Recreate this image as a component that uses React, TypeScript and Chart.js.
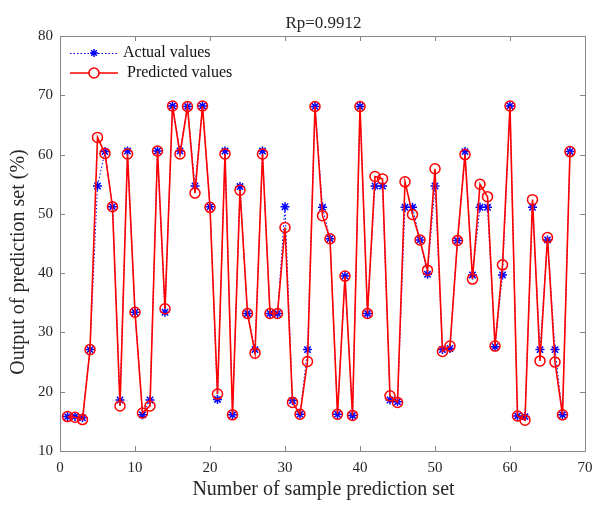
import React, { useEffect, useRef } from "react";
import { Chart, registerables } from "chart.js";

Chart.register(...registerables);

const sampleIndex: number[] = Array.from({ length: 68 }, (_, i) => i + 1);

const actualValues: number[] = [
  15.8, 15.8, 15.6, 27.1, 54.7, 60.5, 51.2, 18.6, 60.6, 33.4,
  16.1, 18.6, 60.6, 33.4, 68.2, 60.6, 68.1, 54.7, 68.2, 51.2,
  18.7, 60.6, 16.1, 54.6, 33.2, 27.1, 60.6, 33.2, 33.2, 51.2,
  18.5, 16.2, 27.1, 68.1, 51.1, 45.8, 16.2, 39.5, 16.0, 68.1,
  33.2, 54.7, 54.7, 18.6, 18.3, 51.1, 51.1, 45.6, 39.8, 54.7,
  27.1, 27.3, 45.5, 60.5, 39.7, 51.1, 51.1, 27.6, 39.7, 68.2,
  15.9, 15.8, 51.1, 27.1, 45.6, 27.1, 16.1, 60.5,
];

const predictedValues: number[] = [
  15.8, 15.7, 15.3, 27.1, 62.9, 60.2, 51.2, 17.6, 60.1, 33.4,
  16.4, 17.6, 60.6, 34.0, 68.2, 60.1, 68.1, 53.5, 68.2, 51.1,
  19.6, 60.1, 16.1, 54.0, 33.2, 26.5, 60.1, 33.2, 33.2, 47.7,
  18.2, 16.2, 25.1, 68.1, 49.7, 45.8, 16.2, 39.5, 16.0, 68.1,
  33.2, 56.3, 55.9, 19.3, 18.2, 55.4, 49.9, 45.6, 40.5, 57.6,
  26.8, 27.7, 45.5, 60.0, 39.0, 55.0, 52.9, 27.7, 41.4, 68.2,
  15.9, 15.2, 52.4, 25.2, 46.0, 25.0, 16.1, 60.5,
];

const xTicks: number[] = [0, 10, 20, 30, 40, 50, 60, 70];
const yTicks: number[] = [10, 20, 30, 40, 50, 60, 70, 80];

const titleText = "Rp=0.9912";
const xTitle = "Number of sample prediction set";
const yTitle = "Output of prediction set (%)";
const legendLabels: string[] = ["Actual values", "Predicted values"];

const FONT = "'Liberation Serif', 'Times New Roman', serif";
const TEXT_COLOR = "#262626";
const AXIS_COLOR = "#868686";
const BLUE = "#0000ff";
const RED = "#ff0000";

const framePlugin = {
  id: "matlabFrame",
  afterDraw(chart: any) {
    const { ctx, chartArea, scales } = chart;
    const { left, right, top, bottom } = chartArea;
    ctx.save();
    // frame
    ctx.strokeStyle = AXIS_COLOR;
    ctx.lineWidth = 1;
    ctx.setLineDash([]);
    ctx.beginPath();
    ctx.rect(Math.round(left) + 0.5, Math.round(top) + 0.5, Math.round(right - left), Math.round(bottom - top));
    ctx.stroke();
    // inward ticks
    const tl = 5;
    ctx.beginPath();
    xTicks.forEach((v) => {
      const x = Math.round(scales.x.getPixelForValue(v)) + 0.5;
      ctx.moveTo(x, bottom);
      ctx.lineTo(x, bottom - tl);
      ctx.moveTo(x, top);
      ctx.lineTo(x, top + tl);
    });
    yTicks.forEach((v) => {
      const y = Math.round(scales.y.getPixelForValue(v)) + 0.5;
      ctx.moveTo(left, y);
      ctx.lineTo(left + tl, y);
      ctx.moveTo(right, y);
      ctx.lineTo(right - tl, y);
    });
    ctx.stroke();

    // title
    ctx.fillStyle = TEXT_COLOR;
    ctx.textAlign = "center";
    ctx.textBaseline = "middle";
    ctx.font = `17px ${FONT}`;
    ctx.fillText(titleText, (left + right) / 2 + 1, 24);

    // x title
    ctx.font = `20px ${FONT}`;
    ctx.fillText(xTitle, (left + right) / 2 + 1, 490);

    // y title
    ctx.save();
    ctx.translate(19, 262);
    ctx.rotate(-Math.PI / 2);
    ctx.fillText(yTitle, 0, 0);
    ctx.restore();

    // legend
    const rows = [53, 73];
    const lx0 = left + 10;
    const lx1 = left + 58;
    const mx = (lx0 + lx1) / 2;
    // actual
    ctx.strokeStyle = BLUE;
    ctx.lineWidth = 1;
    ctx.setLineDash([1.5, 2]);
    ctx.beginPath();
    ctx.moveTo(lx0, rows[0] + 0.5);
    ctx.lineTo(lx1, rows[0] + 0.5);
    ctx.stroke();
    ctx.setLineDash([]);
    ctx.lineWidth = 1.5;
    const r = 4;
    ctx.beginPath();
    ctx.moveTo(mx - r, rows[0]);
    ctx.lineTo(mx + r, rows[0]);
    ctx.moveTo(mx, rows[0] - r);
    ctx.lineTo(mx, rows[0] + r);
    const d = r * 0.7071;
    ctx.moveTo(mx - d, rows[0] - d);
    ctx.lineTo(mx + d, rows[0] + d);
    ctx.moveTo(mx - d, rows[0] + d);
    ctx.lineTo(mx + d, rows[0] - d);
    ctx.stroke();
    // predicted
    ctx.strokeStyle = RED;
    ctx.lineWidth = 1.6;
    ctx.beginPath();
    ctx.moveTo(lx0, rows[1]);
    ctx.lineTo(lx1, rows[1]);
    ctx.stroke();
    ctx.fillStyle = "#ffffff";
    ctx.beginPath();
    ctx.arc(mx, rows[1], 5, 0, Math.PI * 2);
    ctx.fill();
    ctx.stroke();

    ctx.fillStyle = "#111111";
    ctx.textAlign = "left";
    ctx.font = `16px ${FONT}`;
    ctx.fillText(legendLabels[0], left + 63, rows[0]);
    ctx.fillText(legendLabels[1], left + 67, rows[1]);
    ctx.restore();
  },
};

export default function App() {
  const canvasRef = useRef<HTMLCanvasElement | null>(null);

  useEffect(() => {
    const canvas = canvasRef.current;
    if (!canvas) return;
    const chart = new Chart(canvas, {
      type: "line",
      data: {
        datasets: [
          {
            label: legendLabels[0],
            data: sampleIndex.map((x, i) => ({ x, y: actualValues[i] })),
            borderColor: BLUE,
            backgroundColor: "rgba(0,0,0,0)",
            borderWidth: 1,
            borderDash: [1.5, 2],
            pointStyle: "star",
            pointRadius: 4.5,
            pointBorderWidth: 1.5,
            pointBorderColor: BLUE,
            pointBackgroundColor: BLUE,
            tension: 0,
            order: 2,
          },
          {
            label: legendLabels[1],
            data: sampleIndex.map((x, i) => ({ x, y: predictedValues[i] })),
            borderColor: RED,
            backgroundColor: "rgba(0,0,0,0)",
            borderWidth: 1.6,
            pointStyle: "circle",
            pointRadius: 5,
            pointBorderWidth: 1.5,
            pointBorderColor: RED,
            pointBackgroundColor: "rgba(0,0,0,0)",
            tension: 0,
            order: 1,
          },
        ],
      },
      options: {
        animation: false,
        responsive: false,
        events: [],
        layout: { padding: { top: 36, right: 0, left: 0, bottom: 0 } },
        plugins: {
          legend: { display: false },
          title: { display: false },
          tooltip: { enabled: false },
        },
        scales: {
          x: {
            type: "linear",
            min: 0,
            max: 70,
            grid: { display: false, drawTicks: false },
            border: { display: false },
            afterFit: (scale: any) => {
              scale.height = 56;
              scale.paddingRight = 10;
            },
            afterBuildTicks: (scale: any) => {
              scale.ticks = xTicks.map((v) => ({ value: v }));
            },
            ticks: {
              padding: 8,
              color: TEXT_COLOR,
              font: { family: FONT, size: 15 },
              maxRotation: 0,
            },
          },
          y: {
            type: "linear",
            min: 10,
            max: 80,
            grid: { display: false, drawTicks: false },
            border: { display: false },
            afterFit: (scale: any) => {
              scale.width = 60;
            },
            afterBuildTicks: (scale: any) => {
              scale.ticks = yTicks.map((v) => ({ value: v }));
            },
            ticks: {
              padding: 7,
              color: TEXT_COLOR,
              font: { family: FONT, size: 15 },
            },
          },
        },
      },
      plugins: [framePlugin],
    });
    return () => chart.destroy();
  }, []);

  return (
    <div style={{ position: "fixed", left: 0, top: 0, width: 595, height: 507, background: "#ffffff" }}>
      <canvas ref={canvasRef} width={595} height={507} style={{ display: "block" }} />
    </div>
  );
}
